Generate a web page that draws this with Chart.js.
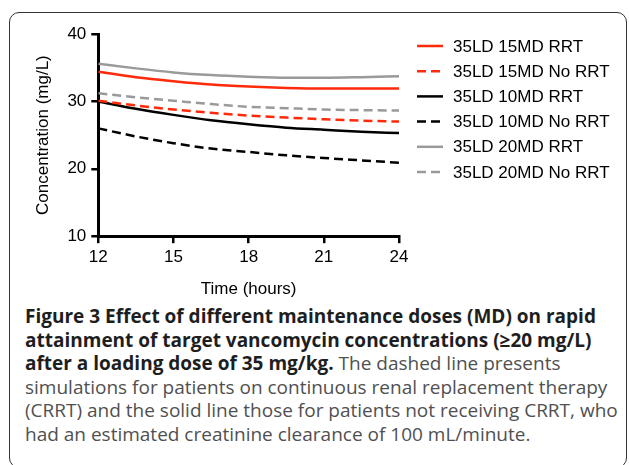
<!DOCTYPE html>
<html>
<head>
<meta charset="utf-8">
<script src="https://cdn.jsdelivr.net/npm/chart.js@4/dist/chart.umd.min.js"></script>
<style>
  html, body { margin: 0; padding: 0; background: #fff; }
  body { width: 629px; height: 465px; position: relative; overflow: hidden; }
  #frame {
    position: absolute; left: 9px; top: 12px; width: 618px; height: 456px;
    box-sizing: border-box; border: 1.5px solid #333; border-radius: 10px;
  }
  #chart-wrap { position: absolute; left: 0; top: 0; width: 629px; height: 300px; }
  #caption {
    position: absolute; left: 25px; top: 305px;
    font-family: "Open Sans", sans-serif; font-size: 19px; line-height: 23.5px;
    color: #505050; white-space: nowrap;
  }
  #caption b { color: #1e1e1e; }
</style>
</head>
<body>
<div id="frame"></div>
<div id="chart-wrap"><canvas id="conc-chart"></canvas></div>
<div id="caption">
  <b>Figure 3 Effect of different maintenance doses (MD) on rapid</b><br>
  <b>attainment of target vancomycin concentrations (≥20 mg/L)</b><br>
  <b>after a loading dose of 35 mg/kg.</b> The dashed line presents<br>
  simulations for patients on continuous renal replacement therapy<br>
  (CRRT) and the solid line those for patients not receiving CRRT, who<br>
  had an estimated creatinine clearance of 100 mL/minute.
</div>
<script>
const hours = [12, 13.5, 15, 16.5, 18, 19.5, 21, 22.5, 24];
const xTicks = [12, 15, 18, 21, 24];
const yTicks = [10, 20, 30, 40];

const ld35md15Rrt   = [34.4, 33.6, 33.0, 32.5, 32.2, 32.0, 31.9, 31.9, 31.9];
const ld35md15NoRrt = [30.1, 29.4, 28.8, 28.3, 27.9, 27.6, 27.35, 27.15, 27.0];
const ld35md10Rrt   = [30.0, 28.9, 28.0, 27.2, 26.6, 26.1, 25.8, 25.5, 25.3];
const ld35md10NoRrt = [26.0, 24.8, 23.8, 23.0, 22.5, 22.0, 21.6, 21.25, 20.9];
const ld35md20Rrt   = [35.6, 34.9, 34.3, 33.9, 33.65, 33.5, 33.5, 33.6, 33.75];
const ld35md20NoRrt = [31.2, 30.6, 30.1, 29.6, 29.2, 29.0, 28.8, 28.7, 28.65];

const RED = "#ff2a0a";
const BLACK = "#000000";
const GRAY = "#9a9a9a";
const DASH = [9, 5];
const FONT_FAMILY = "'Liberation Sans', Arial, sans-serif";

function series(label, values, color, dashed) {
  return {
    label: label,
    data: values.map((v, i) => ({ x: hours[i], y: v })),
    borderColor: color,
    backgroundColor: color,
    borderWidth: 2.5,
    borderDash: dashed ? DASH : [],
    pointRadius: 0,
    cubicInterpolationMode: "monotone",
    fill: false,
  };
}

// legend drawn to the right of the plot, like the original figure
const sideLegend = {
  id: "sideLegend",
  afterDraw(chart) {
    const { ctx, chartArea } = chart;
    const x0 = chartArea.right + 18;
    ctx.save();
    ctx.font = "17px " + FONT_FAMILY;
    ctx.textBaseline = "middle";
    ctx.fillStyle = "#000";
    chart.data.datasets.forEach((ds, i) => {
      const y = chartArea.top + 12 + i * 25.2;
      ctx.beginPath();
      ctx.setLineDash(ds.borderDash);
      ctx.strokeStyle = ds.borderColor;
      ctx.lineWidth = ds.borderWidth;
      ctx.moveTo(x0, y);
      ctx.lineTo(x0 + 26, y);
      ctx.stroke();
      ctx.setLineDash([]);
      ctx.fillText(ds.label, x0 + 36, y + 1);
    });
    ctx.restore();
  },
};

const axisFont = { family: FONT_FAMILY, size: 17 };

const ctx = document.getElementById("conc-chart").getContext("2d");
new Chart(ctx, {
  type: "line",
  data: {
    datasets: [
      series("35LD 15MD RRT", ld35md15Rrt, RED, false),
      series("35LD 15MD No RRT", ld35md15NoRrt, RED, true),
      series("35LD 10MD RRT", ld35md10Rrt, BLACK, false),
      series("35LD 10MD No RRT", ld35md10NoRrt, BLACK, true),
      series("35LD 20MD RRT", ld35md20Rrt, GRAY, false),
      series("35LD 20MD No RRT", ld35md20NoRrt, GRAY, true),
    ],
  },
  plugins: [sideLegend],
  options: {
    responsive: true,
    maintainAspectRatio: false,
    animation: false,
    layout: { padding: { top: 34, right: 230, left: 33, bottom: 0 } },
    plugins: {
      tooltip: { enabled: false },
      legend: { display: false },
    },
    scales: {
      x: {
        type: "linear",
        min: 12,
        max: 24,
        afterBuildTicks: (axis) => { axis.ticks = xTicks.map((v) => ({ value: v })); },
        ticks: { color: "#000", font: axisFont, padding: 4, maxRotation: 0 },
        grid: { drawOnChartArea: false, drawTicks: true, tickLength: 7, color: "#000", lineWidth: 2.5 },
        border: { color: "#000", width: 3 },
        title: { display: true, text: "Time (hours)", color: "#000", font: axisFont, padding: { top: 8, bottom: 0 } },
      },
      y: {
        min: 10,
        max: 40,
        afterBuildTicks: (axis) => { axis.ticks = yTicks.map((v) => ({ value: v })); },
        ticks: { color: "#000", font: axisFont, padding: 5 },
        grid: { drawOnChartArea: false, drawTicks: true, tickLength: 7, color: "#000", lineWidth: 2.5 },
        border: { color: "#000", width: 3 },
        title: { display: true, text: "Concentration (mg/L)", color: "#000", font: axisFont, padding: { top: 0, bottom: 9 } },
      },
    },
  },
});
</script>
</body>
</html>
